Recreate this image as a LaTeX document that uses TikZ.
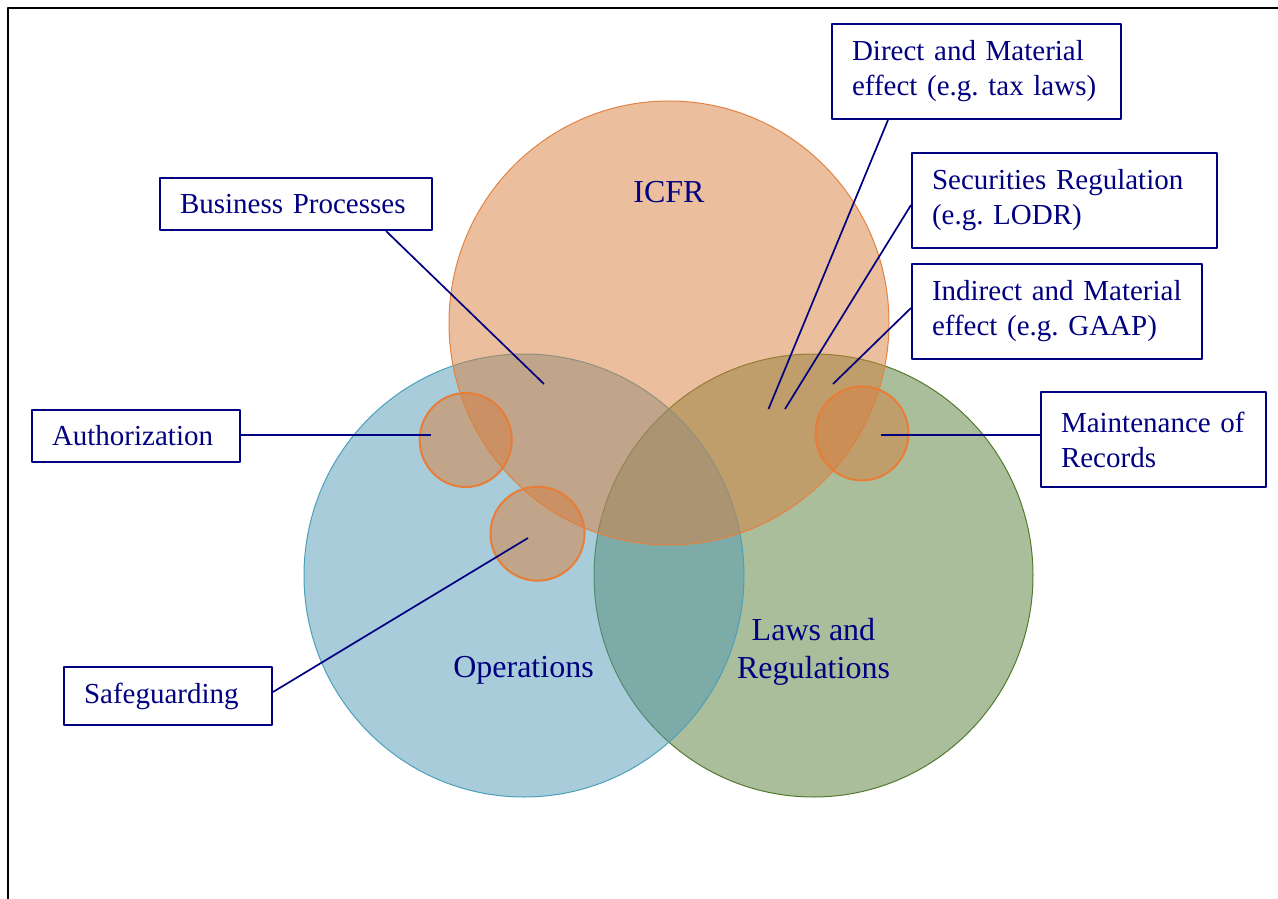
\documentclass[tikz,border=0pt]{standalone}
\usepackage{fontspec}
\setmainfont{Liberation Serif}
\usetikzlibrary{positioning,calc}

\definecolor{navyblue}{RGB}{0,0,128}
\definecolor{icfrfill}{RGB}{215,127,61}
\definecolor{icfrline}{RGB}{226,131,66}
\definecolor{opsfill}{RGB}{83,153,181}
\definecolor{opsline}{RGB}{75,160,188}
\definecolor{lawfill}{RGB}{85,125,57}
\definecolor{lawline}{RGB}{84,122,44}
\definecolor{spotline}{RGB}{232,125,55}

\tikzset{
  callout/.style={draw=navyblue, line width=2pt, fill=white, text=navyblue, align=left,
    inner xsep=20pt, inner ysep=0pt, font=\fontsize{29}{35}\selectfont\frenchspacing},
  lead/.style={draw=navyblue, line width=1.7pt},
  area/.style={fill opacity=0.5, line width=1pt},
  spot/.style={fill=icfrfill, fill opacity=0.5, draw=spotline, line width=2pt},
  title/.style={text=navyblue, inner sep=0pt, font=\fontsize{32}{38}\selectfont}
}

\begin{document}
\begin{tikzpicture}[x=1pt, y=-1pt, line join=round]
\useasboundingbox (0,0) rectangle (1278,899);
\draw[line width=2pt] (7.5,899) -- (7.5,8.5) -- (1278,8.5);

\path[area, fill=lawfill, draw=lawline]   (813.5,575.5) ellipse [x radius=219.5pt, y radius=221.5pt];
\path[area, fill=opsfill, draw=opsline]   (524,575.5)   ellipse [x radius=220pt, y radius=221.5pt];
\path[area, fill=icfrfill, draw=icfrline] (669,323)     ellipse [x radius=220pt, y radius=222pt];
\path[spot] (465.7,440)   ellipse [x radius=46pt, y radius=47pt];
\path[spot] (537.5,533.7) ellipse [x radius=47pt, y radius=47pt];
\path[spot] (862,433.4)   ellipse [x radius=46.5pt, y radius=47pt];

\node[title] (icfr) at (669,192) {ICFR};
\node[title, anchor=base] (ops) at (523.5,677) {Operations};
\node[title, align=center] (laws) at (813.5,652) {Laws and\\Regulations};

\node[callout, minimum width=289pt, text width=249pt, minimum height=95pt] (direct) at (976.5,71.5)
  {\mbox{Direct and Material}\\\mbox{effect (e.g. tax laws)}};
\node[callout, minimum width=305pt, text width=265pt, minimum height=95pt] (secur) at (1064.5,200.5)
  {\mbox{Securities Regulation}\\\mbox{(e.g. LODR)}};
\node[callout, minimum width=290pt, text width=250pt, minimum height=95pt] (indir) at (1057,311.5)
  {\mbox{Indirect and Material}\\\mbox{effect (e.g. GAAP)}};
\node[callout, minimum width=225pt, text width=185pt, minimum height=95pt] (maint) at (1153.5,439.5)
  {\mbox{Maintenance of}\\\mbox{Records}};
\node[callout, minimum width=272pt, text width=232pt, minimum height=52pt] (busi) at (296,204)
  {\mbox{Business Processes}};
\node[callout, minimum width=208pt, text width=168pt, minimum height=52pt] (auth) at (136,436)
  {\mbox{Authorization}};
\node[callout, minimum width=208pt, text width=168pt, minimum height=58pt] (safe) at (168,696)
  {\mbox{Safeguarding}};

\coordinate (pDirect) at (768.5,409);
\coordinate (pSecur)  at (785,409);
\coordinate (pIndir)  at (833,384);
\coordinate (pMaint)  at (881,435);
\coordinate (pBusi)   at (544,384);
\coordinate (pAuth)   at (431,435);
\coordinate (pSafe)   at (528,538);

\draw[lead] ([xshift=57pt]direct.south west) -- (pDirect);
\draw[lead] ([yshift=-4.5pt]secur.west) -- (pSecur);
\draw[lead] ([yshift=3.5pt]indir.west) -- (pIndir);
\draw[lead] ([yshift=4.5pt]maint.west) -- (pMaint);
\draw[lead] ([xshift=-47pt]busi.south east) -- (pBusi);
\draw[lead] ([yshift=1pt]auth.east) -- (pAuth);
\draw[lead] ([yshift=4pt]safe.east) -- (pSafe);
\end{tikzpicture}
\end{document}
